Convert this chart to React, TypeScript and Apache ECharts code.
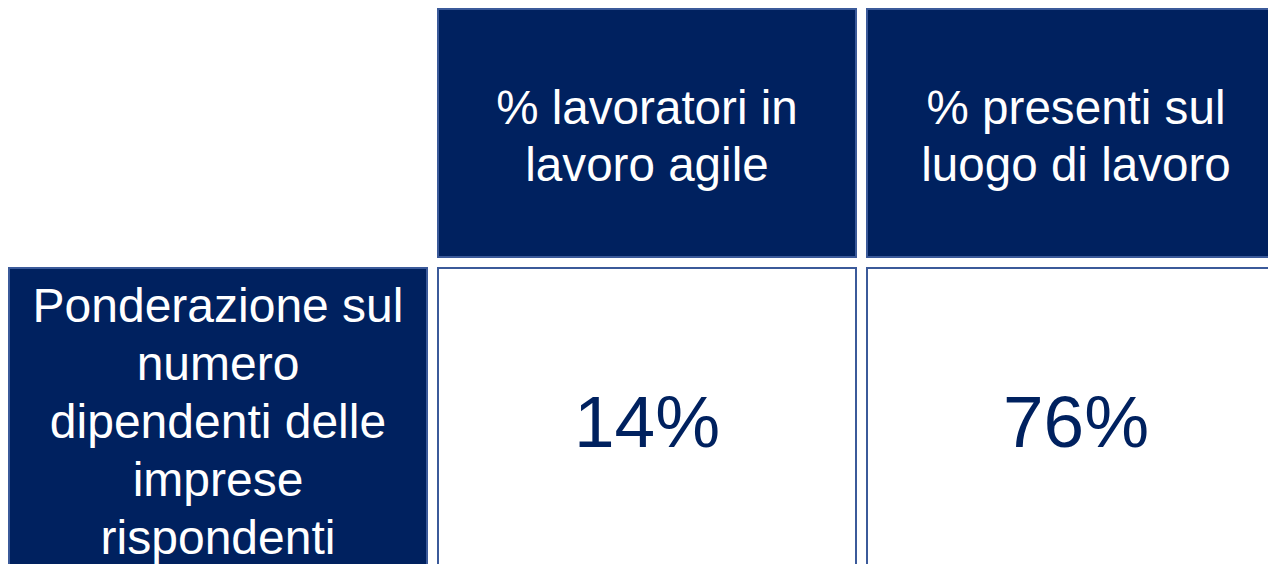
import React, { useEffect, useRef } from "react";
import * as echarts from "echarts";

const columnHeaders: string[] = ["% lavoratori in\nlavoro agile", "% presenti sul\nluogo di lavoro"];
const rowHeaders: string[] = ["Ponderazione sul\nnumero\ndipendenti delle\nimprese\nrispondenti"];
const values: number[][] = [[14, 76]];

const NAVY = "#00215F";
const BORDER = "#3B5A9A";
const FONT = "'Liberation Sans', Arial, sans-serif";

export default function App() {
  const ref = useRef<HTMLDivElement>(null);
  useEffect(() => {
    if (!ref.current) return;
    const chart = echarts.init(ref.current, undefined, { renderer: "svg" });
    const x0 = 9;
    const cellW = 418;
    const gap = 11;
    const headerTop = 9;
    const headerH = 248;
    const rowTop = 268;
    const rowH = 306;
    const colX = (i: number) => x0 + (i + 1) * (cellW + gap);
    const elements: any[] = [];
    columnHeaders.forEach((h, i) => {
      const x = colX(i);
      elements.push({
        type: "rect",
        shape: { x, y: headerTop, width: cellW, height: headerH },
        style: { fill: NAVY, stroke: BORDER, lineWidth: 2 },
      });
      elements.push({
        type: "text",
        x: x + cellW / 2,
        y: headerTop + headerH / 2 + 3,
        style: {
          text: h,
          fill: "#ffffff",
          fontSize: 47.6,
          fontFamily: FONT,
          lineHeight: 57,
          align: "center",
          verticalAlign: "middle",
        },
      });
    });
    rowHeaders.forEach((r, j) => {
      const y = rowTop + j * (rowH + gap);
      elements.push({
        type: "rect",
        shape: { x: x0, y, width: cellW, height: rowH },
        style: { fill: NAVY, stroke: BORDER, lineWidth: 2 },
      });
      elements.push({
        type: "text",
        x: x0 + cellW / 2,
        y: y + 153,
        style: {
          text: r,
          fill: "#ffffff",
          fontSize: 48,
          fontFamily: FONT,
          lineHeight: 58,
          align: "center",
          verticalAlign: "middle",
        },
      });
      values[j].forEach((v, i) => {
        const x = colX(i);
        elements.push({
          type: "rect",
          shape: { x, y, width: cellW, height: rowH },
          style: { fill: "#ffffff", stroke: BORDER, lineWidth: 2 },
        });
        elements.push({
          type: "text",
          x: x + cellW / 2,
          y: y + 153,
          style: {
            text: v + "%",
            fill: NAVY,
            fontSize: 73,
            fontFamily: FONT,
            align: "center",
            verticalAlign: "middle",
          },
        });
      });
    });
    chart.setOption({
      animation: false,
      backgroundColor: "#ffffff",
      graphic: { elements },
    });
    return () => chart.dispose();
  }, []);
  return (
    <div
      ref={ref}
      style={{ position: "fixed", left: 0, top: 0, width: 1268, height: 564 }}
    />
  );
}
